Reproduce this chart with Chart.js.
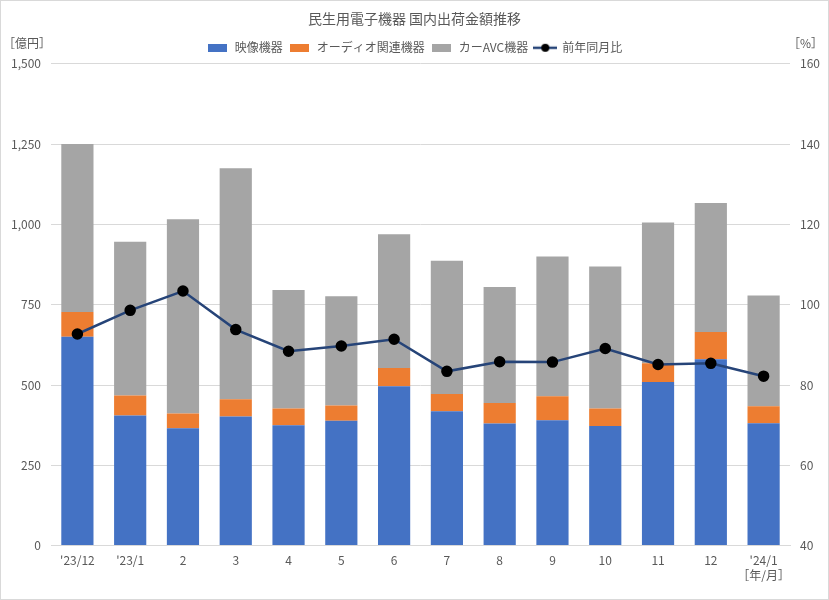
<!DOCTYPE html>
<html><head><meta charset="utf-8">
<script src="https://cdn.jsdelivr.net/npm/chart.js@4"></script>
<style>
html,body{margin:0;padding:0;background:#fff;}
#wrap{position:relative;width:829px;height:600px;box-sizing:border-box;border:1px solid #d9d9d9;}
canvas{display:block;}
</style></head>
<body><div id="wrap"><canvas id="c" width="827" height="598"></canvas></div>
<script>
const categories = ["'23/12","'23/1","2","3","4","5","6","7","8","9","10","11","12","'24/1"];
const videoValues = [650,405,365,402,375,389,496,418,380,390,372,509,580,381];
const audioValues = [77,62,46,54,52,47,57,54,64,75,55,59,85,53];
const carAvcValues = [523,479,605,719,369,340,416,415,361,435,442,438,402,345];
const yoyValues = [92.7,98.6,103.4,93.8,88.4,89.7,91.4,83.4,85.8,85.7,89.1,85.1,85.4,82.2];
const seriesNames = ["映像機器","オーディオ関連機器","カーAVC機器","前年同月比"];
const titleText = "民生用電子機器 国内出荷金額推移";

const FONT = "'Noto Sans CJK JP', 'Noto Sans', sans-serif";
const TXT = "#595959";
const GRID = "#d9d9d9";
const colors = ["#4472c4","#ed7d31","#a5a5a5"];
const lineColor = "#264478";

function boxIcon(color){
  const c=document.createElement('canvas'); c.width=19; c.height=8;
  const x=c.getContext('2d'); x.fillStyle=color; x.fillRect(0,0,19,8); return c;
}
function lineIcon(){
  const c=document.createElement('canvas'); c.width=24; c.height=10;
  const x=c.getContext('2d'); x.strokeStyle=lineColor; x.lineWidth=2.5;
  x.beginPath(); x.moveTo(0,5); x.lineTo(24,5); x.stroke();
  x.fillStyle='#000'; x.beginPath(); x.arc(12,5,4,0,Math.PI*2); x.fill(); return c;
}
const icons=[boxIcon(colors[0]),boxIcon(colors[1]),boxIcon(colors[2]),lineIcon()];

const extraText = {
  id:'extraText',
  afterDraw(chart){
    const ctx=chart.ctx; ctx.save();
    ctx.fillStyle=TXT; ctx.font="12px "+FONT; ctx.textBaseline='middle';
    ctx.textAlign='left'; ctx.fillText("［億円］",2,42);
    ctx.textAlign='right'; ctx.fillText("［%］",822,42);
    const xs=chart.scales.x; const px=xs.getPixelForValue(categories.length-1);
    ctx.textAlign='center'; ctx.fillText("［年/月］",px,574);
    ctx.restore();
  }
};

new Chart(document.getElementById('c'),{
  data:{
    labels:categories,
    datasets:[
      {type:'line',label:seriesNames[3],data:yoyValues,yAxisID:'y1',borderColor:lineColor,borderWidth:2.5,
       pointBackgroundColor:'#000',pointBorderColor:'#000',pointRadius:4.5,pointHoverRadius:4.5,tension:0,order:0},
      {type:'bar',label:seriesNames[0],data:videoValues,backgroundColor:colors[0],stack:'s',yAxisID:'y',order:1},
      {type:'bar',label:seriesNames[1],data:audioValues,backgroundColor:colors[1],stack:'s',yAxisID:'y',order:1},
      {type:'bar',label:seriesNames[2],data:carAvcValues,backgroundColor:colors[2],stack:'s',yAxisID:'y',order:1}
    ]
  },
  options:{
    responsive:false,animation:false,
    datasets:{bar:{barPercentage:0.61,categoryPercentage:1.0}},
    layout:{padding:{left:0,right:0,top:0,bottom:23}},
    plugins:{
      title:{display:true,text:titleText,color:TXT,font:{family:FONT,size:14,weight:'normal'},padding:{top:9,bottom:9}},
      legend:{position:'top',
        labels:{color:TXT,font:{family:FONT,size:12},usePointStyle:true,pointStyleWidth:22,boxHeight:8,padding:6,
          generateLabels(chart){
            const order=[1,2,3,0];
            return order.map((di,i)=>({text:chart.data.datasets[di].label,pointStyle:icons[i],fontColor:TXT,
              datasetIndex:di,lineWidth:0,strokeStyle:'rgba(0,0,0,0)',fillStyle:'rgba(0,0,0,0)',hidden:false}));
          }}},
      tooltip:{enabled:false}
    },
    scales:{
      x:{stacked:true,grid:{display:false,drawTicks:false},border:{color:GRID,width:1},
         ticks:{color:TXT,font:{family:FONT,size:12},padding:8,maxRotation:0,autoSkip:false}},
      y:{stacked:true,position:'left',min:0,max:1500,
         ticks:{stepSize:250,color:TXT,font:{family:FONT,size:12},padding:10,
           callback:v=>v.toLocaleString('en-US')},
         grid:{color:GRID,drawTicks:false},border:{display:false},afterFit(s){s.width=50;}},
      y1:{position:'right',min:40,max:160,
         ticks:{stepSize:20,color:TXT,font:{family:FONT,size:12},padding:10},
         grid:{display:false,drawTicks:false},border:{display:false},afterFit(s){s.width=38;}}
    }
  },
  plugins:[extraText]
});
</script></body></html>
